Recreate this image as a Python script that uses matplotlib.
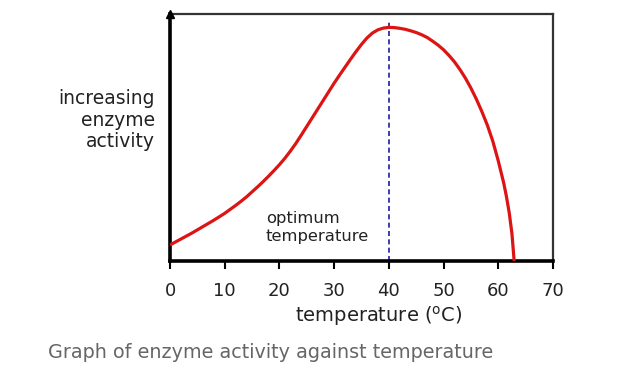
import matplotlib
matplotlib.use("Agg")
import matplotlib.pyplot as plt

temperature = [0, 1, 2, 3, 4, 5, 6, 7, 8, 9, 10, 11, 12, 13, 14, 15, 16, 17, 18, 19,
               20, 21, 22, 23, 24, 25, 26, 27, 28, 29, 30, 31, 32, 33, 34, 35, 36, 37,
               38, 39, 40, 41, 42, 43, 44, 45, 46, 47, 48, 49, 50, 51, 52, 53, 54, 55,
               56, 57, 58, 59, 60, 61, 61.5, 62, 62.5, 62.9]
activity = [6.5, 7.7, 8.9, 10.1, 11.3, 12.6, 13.9, 15.2, 16.5, 17.9, 19.3, 20.9, 22.5,
            24.2, 26.0, 28.0, 30.0, 32.1, 34.3, 36.6, 39.0, 41.6, 44.5, 47.6, 51.0, 54.5,
            58.0, 61.5, 65.0, 68.5, 72.0, 75.3, 78.5, 81.7, 84.8, 87.7, 90.3, 92.3,
            93.6, 94.3, 94.6, 94.5, 94.2, 93.8, 93.2, 92.5, 91.6, 90.5, 89.0, 87.4,
            85.5, 83.2, 80.6, 77.5, 74.0, 70.0, 65.5, 60.5, 55.0, 48.5, 40.5, 31.5,
            26.0, 19.5, 11.0, 0.0]
optimum = 40
xticks = [0, 10, 20, 30, 40, 50, 60, 70]

plt.rcParams['font.family'] = ['DejaVu Sans']
fig = plt.figure(figsize=(6.4, 3.71), dpi=100)
ax = fig.add_axes([170/640, 110/371, 383/640, 247/371])

ax.plot(temperature, activity, color='#dd1414', lw=2.3, solid_joinstyle='round',
        solid_capstyle='butt', zorder=3)
ax.axvline(optimum, ymin=0, ymax=0.975, color='#1c1ca8', lw=1.2, ls=(0, (3, 2)), zorder=2)

ax.set_xlim(0, 70)
ax.set_ylim(0, 100)
ax.set_xticks(xticks)
ax.set_xticklabels([str(t) for t in xticks], fontsize=13, color='#222222')
ax.set_yticks([])
ax.tick_params(axis='x', direction='out', length=6, width=1.5, pad=9, color='black')

for s in ['left', 'bottom']:
    ax.spines[s].set_linewidth(2.6)
    ax.spines[s].set_color('black')
for s in ['top', 'right']:
    ax.spines[s].set_linewidth(1.6)
    ax.spines[s].set_color('#333333')

# arrow at top of y axis
ax.plot([0], [1.0], marker='^', markersize=6, color='black', clip_on=False,
        transform=ax.transAxes, zorder=5)

fig.text(379/640, 1 - 316/371, 'temperature ($^{\\mathrm{o}}$C)', ha='center', va='center',
         fontsize=14, color='#222222')

fig.text(155/640, 1 - 120/371, 'increasing\nenzyme\nactivity', ha='right', va='center',
         fontsize=13.5, color='#222222', linespacing=1.17)
ax.text(17.5, 13.6, 'optimum\ntemperature', ha='left', va='center', fontsize=11.8,
        color='#222222', linespacing=1.28)

fig.text(48/640, 1 - 353/371, 'Graph of enzyme activity against temperature', ha='left',
         va='center', fontsize=13.8, color='#666666')

fig.savefig('out.png', dpi=100, facecolor='white')
